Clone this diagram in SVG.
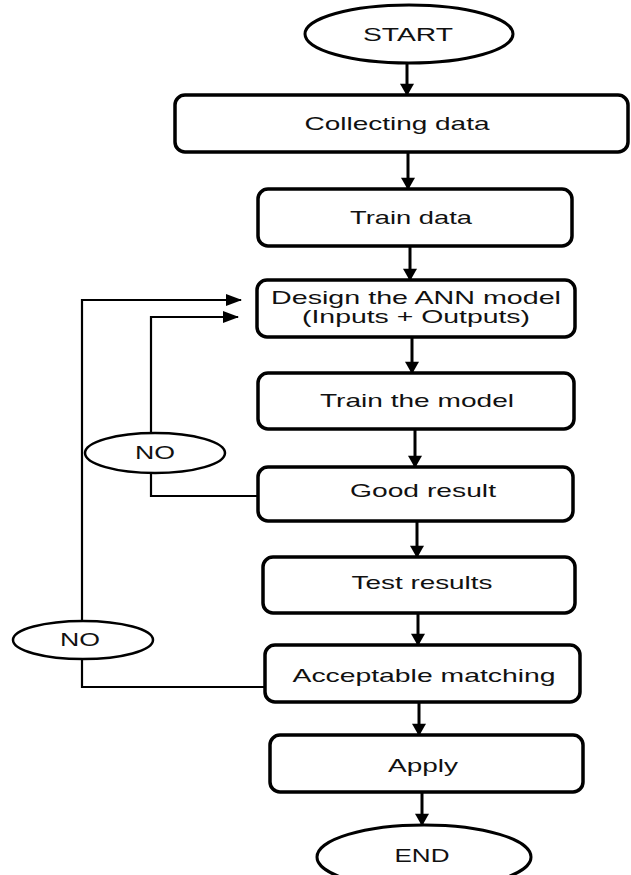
<svg xmlns="http://www.w3.org/2000/svg" width="631" height="875" viewBox="0 0 631 875">
<style>
.box{fill:#fff;stroke:#000;stroke-width:3.5}
.term{fill:#fff;stroke:#000;stroke-width:3}
.no{fill:#fff;stroke:#000;stroke-width:2.5}
.t{font-family:"Liberation Sans",Arial,sans-serif;font-size:19px;fill:#111;text-anchor:middle}
.flow{fill:none;stroke:#000;stroke-width:3}
.loop{fill:none;stroke:#000;stroke-width:2.2}
</style>
<defs>
<marker id="ah" markerUnits="userSpaceOnUse" markerWidth="18" markerHeight="14" refX="13" refY="8" orient="auto" viewBox="0 0 14 16">
<path d="M0,0 L14,8 L0,16 Z" fill="#000"/>
</marker>
<marker id="ahs" markerUnits="userSpaceOnUse" markerWidth="16" markerHeight="12" refX="15" refY="6" orient="auto" viewBox="0 0 16 12">
<path d="M0,0 L16,6 L0,12 Z" fill="#000"/>
</marker>
</defs>
<g id="connectors">
<line class="flow" x1="407" y1="63" x2="407" y2="95" marker-end="url(#ah)"/>
<line class="flow" x1="408" y1="152" x2="408" y2="189" marker-end="url(#ah)"/>
<line class="flow" x1="410" y1="246" x2="410" y2="280" marker-end="url(#ah)"/>
<line class="flow" x1="412" y1="337" x2="412" y2="373" marker-end="url(#ah)"/>
<line class="flow" x1="415" y1="429" x2="415" y2="467" marker-end="url(#ah)"/>
<line class="flow" x1="417" y1="521" x2="417" y2="557" marker-end="url(#ah)"/>
<line class="flow" x1="418" y1="613" x2="418" y2="645" marker-end="url(#ah)"/>
<line class="flow" x1="419" y1="702" x2="419" y2="735" marker-end="url(#ah)"/>
<line class="flow" x1="422" y1="792" x2="422" y2="825" marker-end="url(#ah)"/>
<polyline class="loop" points="258,496 151,496 151,473"/>
<polyline class="loop" points="151,433 151,317 238,317" marker-end="url(#ahs)"/>
<polyline class="loop" points="265,687 82,687 82,659"/>
<polyline class="loop" points="82,621 82,300 241,300" marker-end="url(#ahs)"/>
</g>
<g id="start">
<ellipse class="term" cx="409" cy="34" rx="104" ry="29"/>
<text class="t" x="408" y="41" font-size="18" textLength="90" lengthAdjust="spacingAndGlyphs">START</text>
</g>
<g id="collect">
<rect class="box" x="175" y="95" width="453" height="57" rx="10"/>
<text class="t" x="397" y="130" textLength="185" lengthAdjust="spacingAndGlyphs">Collecting data</text>
</g>
<g id="traindata">
<rect class="box" x="258" y="189" width="314" height="57" rx="10"/>
<text class="t" x="411" y="224" textLength="122" lengthAdjust="spacingAndGlyphs">Train data</text>
</g>
<g id="design">
<rect class="box" x="257" y="280" width="318" height="57" rx="10"/>
<text class="t" x="416" y="304" font-size="16" textLength="290" lengthAdjust="spacingAndGlyphs">Design the ANN model</text>
<text class="t" x="416" y="323" font-size="16" textLength="228" lengthAdjust="spacingAndGlyphs">(Inputs + Outputs)</text>
</g>
<g id="trainmodel">
<rect class="box" x="258" y="373" width="316" height="56" rx="10"/>
<text class="t" x="417" y="407" textLength="194" lengthAdjust="spacingAndGlyphs">Train the model</text>
</g>
<g id="good">
<rect class="box" x="258" y="467" width="315" height="54" rx="10"/>
<text class="t" x="423" y="497" textLength="146" lengthAdjust="spacingAndGlyphs">Good result</text>
</g>
<g id="test">
<rect class="box" x="263" y="557" width="312" height="56" rx="10"/>
<text class="t" x="422" y="589" textLength="141" lengthAdjust="spacingAndGlyphs">Test results</text>
</g>
<g id="accept">
<rect class="box" x="265" y="645" width="315" height="57" rx="10"/>
<text class="t" x="424" y="682" textLength="263" lengthAdjust="spacingAndGlyphs">Acceptable matching</text>
</g>
<g id="apply">
<rect class="box" x="270" y="735" width="313" height="57" rx="10"/>
<text class="t" x="423" y="772" textLength="70" lengthAdjust="spacingAndGlyphs">Apply</text>
</g>
<g id="end">
<ellipse class="term" cx="424" cy="857" rx="107" ry="32"/>
<text class="t" x="422" y="862" font-size="18" textLength="55" lengthAdjust="spacingAndGlyphs">END</text>
</g>
<g id="no1">
<ellipse class="no" cx="155" cy="453" rx="70" ry="20"/>
<text class="t" x="155" y="459" font-size="16" textLength="40" lengthAdjust="spacingAndGlyphs">NO</text>
</g>
<g id="no2">
<ellipse class="no" cx="83" cy="640" rx="70" ry="19"/>
<text class="t" x="80" y="646" font-size="16" textLength="40" lengthAdjust="spacingAndGlyphs">NO</text>
</g>
</svg>
